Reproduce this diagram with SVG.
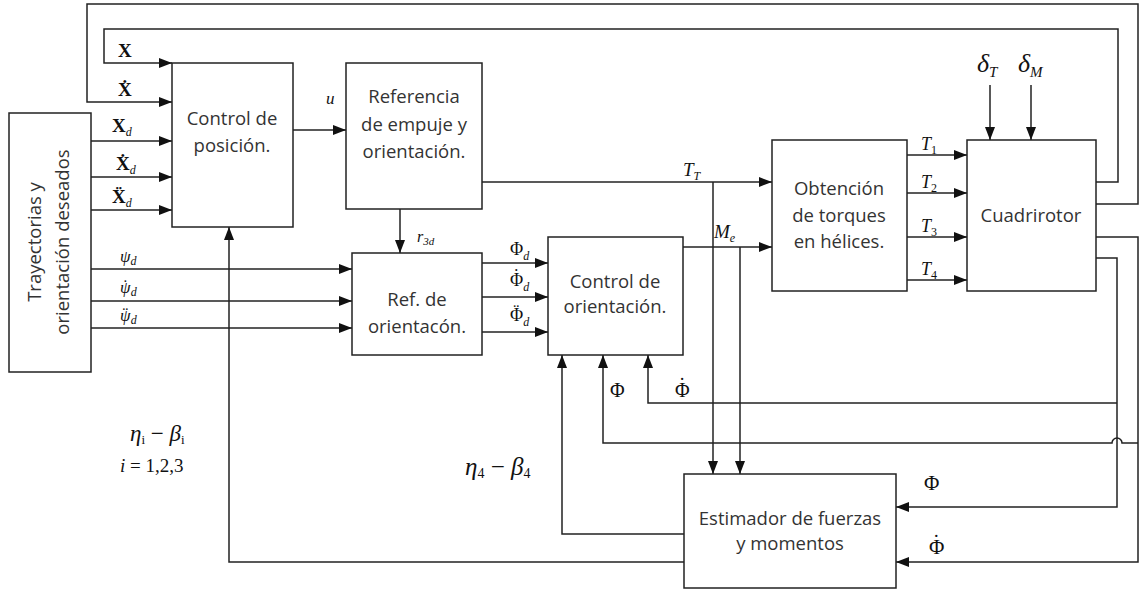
<svg xmlns="http://www.w3.org/2000/svg" width="1144" height="592" viewBox="0 0 1144 592">
<defs>
<marker id="ah" markerWidth="14" markerHeight="12" refX="13" refY="6" orient="auto" markerUnits="userSpaceOnUse">
<path d="M0,1 L13,6 L0,11 Z" fill="#111"/>
</marker>
<style>
.box{fill:#fff;stroke:#222;stroke-width:1.5}
.ar{fill:none;stroke:#222;stroke-width:1.5;marker-end:url(#ah)}
.t{font-family:"Open Sans","Liberation Sans",sans-serif;font-size:18.5px;fill:#333;text-anchor:middle}
.m{font-family:"Liberation Serif","DejaVu Serif",serif;font-style:italic;fill:#111}
.mb{font-family:"Liberation Serif","DejaVu Serif",serif;font-weight:bold;fill:#111}
.mu{font-family:"Liberation Serif","DejaVu Serif",serif;font-style:normal;fill:#111}
</style>
</defs>
<rect width="1144" height="592" fill="#fff"/>

<g id="connectors">
<path class="ar" d="M1096,204 H1138 V4 H87 V102 H172"/>
<path class="ar" d="M1096,182 H1118 V29 H104 V63 H172"/>
<path class="ar" d="M91,141 H172"/>
<path class="ar" d="M91,177 H172"/>
<path class="ar" d="M91,210 H172"/>
<path class="ar" d="M293,130 H346"/>
<path class="ar" d="M482,182 H772"/>
<path class="ar" d="M400,209 V253"/>
<path class="ar" d="M91,269 H352"/>
<path class="ar" d="M91,301 H352"/>
<path class="ar" d="M91,328 H352"/>
<path class="ar" d="M482,263 H548"/>
<path class="ar" d="M482,297 H548"/>
<path class="ar" d="M482,332 H548"/>
<path class="ar" d="M683,247 H772"/>
<path class="ar" d="M713,182 V474"/>
<path class="ar" d="M740,247 V474"/>
<path class="ar" d="M907,155 H967"/>
<path class="ar" d="M907,193 H967"/>
<path class="ar" d="M907,237 H967"/>
<path class="ar" d="M907,280 H967"/>
<path class="ar" d="M990,85 V140"/>
<path class="ar" d="M1031,85 V140"/>
<path class="ar" d="M1096,237 H1138 V562 H896"/>
<path class="ar" d="M1096,258 H1117 V507 H896"/>
<path class="ar" d="M1117,403 H648 V355"/>
<path class="ar" d="M1138,443 H1122 A5,5 0 0 0 1112,443 H603 V355"/>
<path class="ar" d="M684,534 H562 V355"/>
<path class="ar" d="M684,562 H229 V227"/>
</g>

<g id="trayectorias">
<rect class="box" x="9" y="113" width="82" height="259"/>
<text class="t" transform="translate(41,242) rotate(-90)">Trayectorias y</text>
<text class="t" transform="translate(69,242) rotate(-90)">orientación deseados</text>
</g>
<g id="control-posicion">
<rect class="box" x="172" y="63" width="121" height="164"/>
<text class="t" x="232" y="125">Control de</text>
<text class="t" x="232" y="152">posición.</text>
</g>
<g id="referencia">
<rect class="box" x="346" y="63" width="136" height="146"/>
<text class="t" x="414" y="103">Referencia</text>
<text class="t" x="414" y="131">de empuje y</text>
<text class="t" x="414" y="158">orientación.</text>
</g>
<g id="ref-orientacion">
<rect class="box" x="352" y="253" width="130" height="102"/>
<text class="t" x="417" y="306">Ref. de</text>
<text class="t" x="417" y="333">orientacón.</text>
</g>
<g id="control-orientacion">
<rect class="box" x="548" y="237" width="135" height="118"/>
<text class="t" x="615" y="288">Control de</text>
<text class="t" x="615" y="313">orientación.</text>
</g>
<g id="obtencion">
<rect class="box" x="772" y="140" width="135" height="151"/>
<text class="t" x="839" y="195">Obtención</text>
<text class="t" x="839" y="222">de torques</text>
<text class="t" x="839" y="248">en hélices.</text>
</g>
<g id="cuadrirotor">
<rect class="box" x="967" y="140" width="129" height="151"/>
<text class="t" x="1031" y="222">Cuadrirotor</text>
</g>
<g id="estimador">
<rect class="box" x="684" y="474" width="212" height="114"/>
<text class="t" x="790" y="525">Estimador de fuerzas</text>
<text class="t" x="790" y="550">y momentos</text>
</g>

<g id="labels">
<text class="mb" x="118" y="57" font-size="19">X</text>
<text class="mb" x="118" y="96" font-size="19">Ẋ</text>
<text class="mb" x="112" y="132" font-size="19">X<tspan class="m" font-weight="normal" font-size="12" dy="4">d</tspan></text>
<text class="mb" x="116" y="170" font-size="19">Ẋ<tspan class="m" font-weight="normal" font-size="12" dy="4">d</tspan></text>
<text class="mb" x="112" y="203" font-size="19">Ẍ<tspan class="m" font-weight="normal" font-size="12" dy="4">d</tspan></text>
<text class="m" x="326" y="104" font-size="17">u</text>
<text class="m" x="120" y="262" font-size="17">ψ<tspan font-size="12" dy="3">d</tspan></text>
<text class="m" x="120" y="293" font-size="17">ψ<tspan class="mu" dx="-8" dy="-2">˙</tspan><tspan font-size="12" dx="2.5" dy="5">d</tspan></text>
<text class="m" x="120" y="321" font-size="17">ψ<tspan class="mu" dx="-8" dy="-2">¨</tspan><tspan font-size="12" dx="2.5" dy="5">d</tspan></text>
<text class="m" x="417" y="242" font-size="16">r<tspan font-size="11" dy="3">3d</tspan></text>
<text class="mu" x="510" y="255" font-size="18">Φ<tspan class="m" font-size="12" dy="5">d</tspan></text>
<text class="mu" x="510" y="286" font-size="18">Φ<tspan dx="-9.9" dy="-4">˙</tspan><tspan class="m" font-size="12" dx="3.9" dy="9">d</tspan></text>
<text class="mu" x="510" y="321" font-size="18">Φ<tspan dx="-9.9" dy="-4">¨</tspan><tspan class="m" font-size="12" dx="3.9" dy="9">d</tspan></text>
<text class="m" x="683" y="176" font-size="19">T<tspan font-size="12" dy="4">T</tspan></text>
<text class="m" x="714" y="238" font-size="19">M<tspan font-size="12" dy="4">e</tspan></text>
<text class="m" x="921" y="150" font-size="18">T<tspan class="mu" font-size="12" dy="4">1</tspan></text>
<text class="m" x="921" y="188" font-size="18">T<tspan class="mu" font-size="12" dy="4">2</tspan></text>
<text class="m" x="921" y="232" font-size="18">T<tspan class="mu" font-size="12" dy="4">3</tspan></text>
<text class="m" x="921" y="275" font-size="18">T<tspan class="mu" font-size="12" dy="4">4</tspan></text>
<text class="m" x="977" y="72" font-size="26">δ<tspan font-size="15" dy="5">T</tspan></text>
<text class="m" x="1018" y="72" font-size="26">δ<tspan font-size="15" dy="5">M</tspan></text>
<text class="mu" x="610" y="397" font-size="20">Φ</text>
<text class="mu" x="675" y="397" font-size="20">Φ<tspan dx="-10.9" dy="-5">˙</tspan></text>
<text class="mu" x="924" y="490" font-size="21">Φ</text>
<text class="mu" x="929" y="554" font-size="21">Φ<tspan dx="-11.5" dy="-5">˙</tspan></text>
<text class="m" x="465" y="475" font-size="25">η<tspan class="mu" font-size="14" dy="3">4</tspan><tspan class="mu" dy="-3"> − </tspan>β<tspan class="mu" font-size="14" dy="3">4</tspan></text>
<text class="m" x="130" y="441" font-size="23">η<tspan class="mu" font-size="13" dy="3">i</tspan><tspan class="mu" dy="-3"> − </tspan>β<tspan class="mu" font-size="13" dy="3">i</tspan></text>
<text class="m" x="120" y="472" font-size="19">i<tspan class="mu"> = 1,2,3</tspan></text>
</g>
</svg>
